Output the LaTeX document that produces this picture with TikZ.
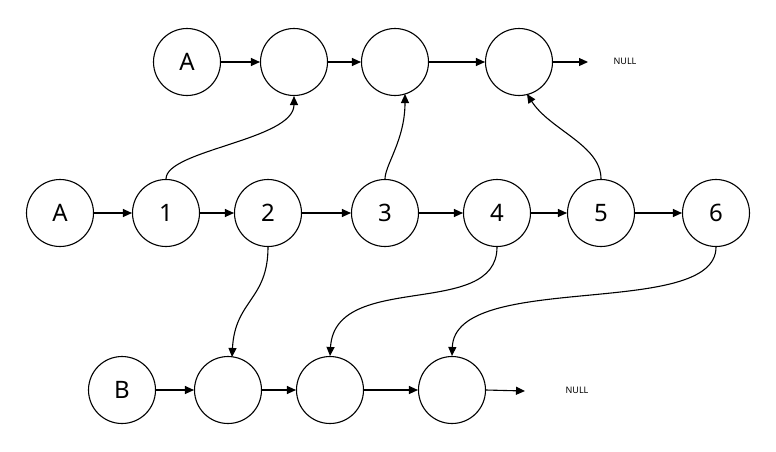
\documentclass[tikz,border=0pt]{standalone}
\usepackage{fontspec}
\setmainfont{Noto Sans}
\usetikzlibrary{arrows.meta}
\begin{document}
\begin{tikzpicture}[x=1pt,y=-1pt,
  nd/.style={circle,draw,line width=1.1pt,minimum size=67pt,inner sep=0pt,font=\fontsize{24}{24}\selectfont},
  ar/.style={line width=1.1pt,-{Triangle[length=9pt,width=8pt]}},
  nl/.style={font=\fontsize{9}{9}\selectfont}]
\useasboundingbox (0,0) rectangle (776,451);
% top
\node[nd] (ta) at (187,62) {A};
\node[nd] (t1) at (294,62) {};
\node[nd] (t2) at (395,62) {};
\node[nd] (t3) at (519,62) {};
\node[nl] (tn) at (625,61) {NULL};
% middle
\node[nd] (ma) at (60,213) {A};
\node[nd] (m1) at (166,213) {1};
\node[nd] (m2) at (268,213) {2};
\node[nd] (m3) at (385,213) {3};
\node[nd] (m4) at (497,213) {4};
\node[nd] (m5) at (601,213) {5};
\node[nd] (m6) at (716,213) {6};
% bottom
\node[nd] (ba) at (122,390) {B};
\node[nd] (b1) at (228,390) {};
\node[nd] (b2) at (330,390) {};
\node[nd] (b3) at (452,390) {};
\node[nl] (bn) at (577,390) {NULL};
\coordinate (tne) at (588,62);
\coordinate (bne) at (525,391);
\draw[ar] (ta) -- (t1);
\draw[ar] (t1) -- (t2);
\draw[ar] (t2) -- (t3);
\draw[ar] (t3.east) -- (tne);
\draw[ar] (ma) -- (m1);
\draw[ar] (m1) -- (m2);
\draw[ar] (m2) -- (m3);
\draw[ar] (m3) -- (m4);
\draw[ar] (m4) -- (m5);
\draw[ar] (m5) -- (m6);
\draw[ar] (ba) -- (b1);
\draw[ar] (b1) -- (b2);
\draw[ar] (b2) -- (b3);
\draw[ar] (b3.east) -- (bne);
\draw[ar] (m1.north) .. controls (166,150) and (294,140) .. (t1.south);
\draw[ar] (m3.north) .. controls (385,165) and (405,140) .. (405,94);
\draw[ar] (m5.north) .. controls (601,145) and (550,130) .. (527,94);
\draw[ar] (m2.south) .. controls (268,300) and (235,300) .. (232,357);
\draw[ar] (m4.south) .. controls (497,320) and (335,270) .. (b2.north);
\draw[ar] (m6.south) .. controls (716,320) and (455,270) .. (b3.north);
\end{tikzpicture}
\end{document}
